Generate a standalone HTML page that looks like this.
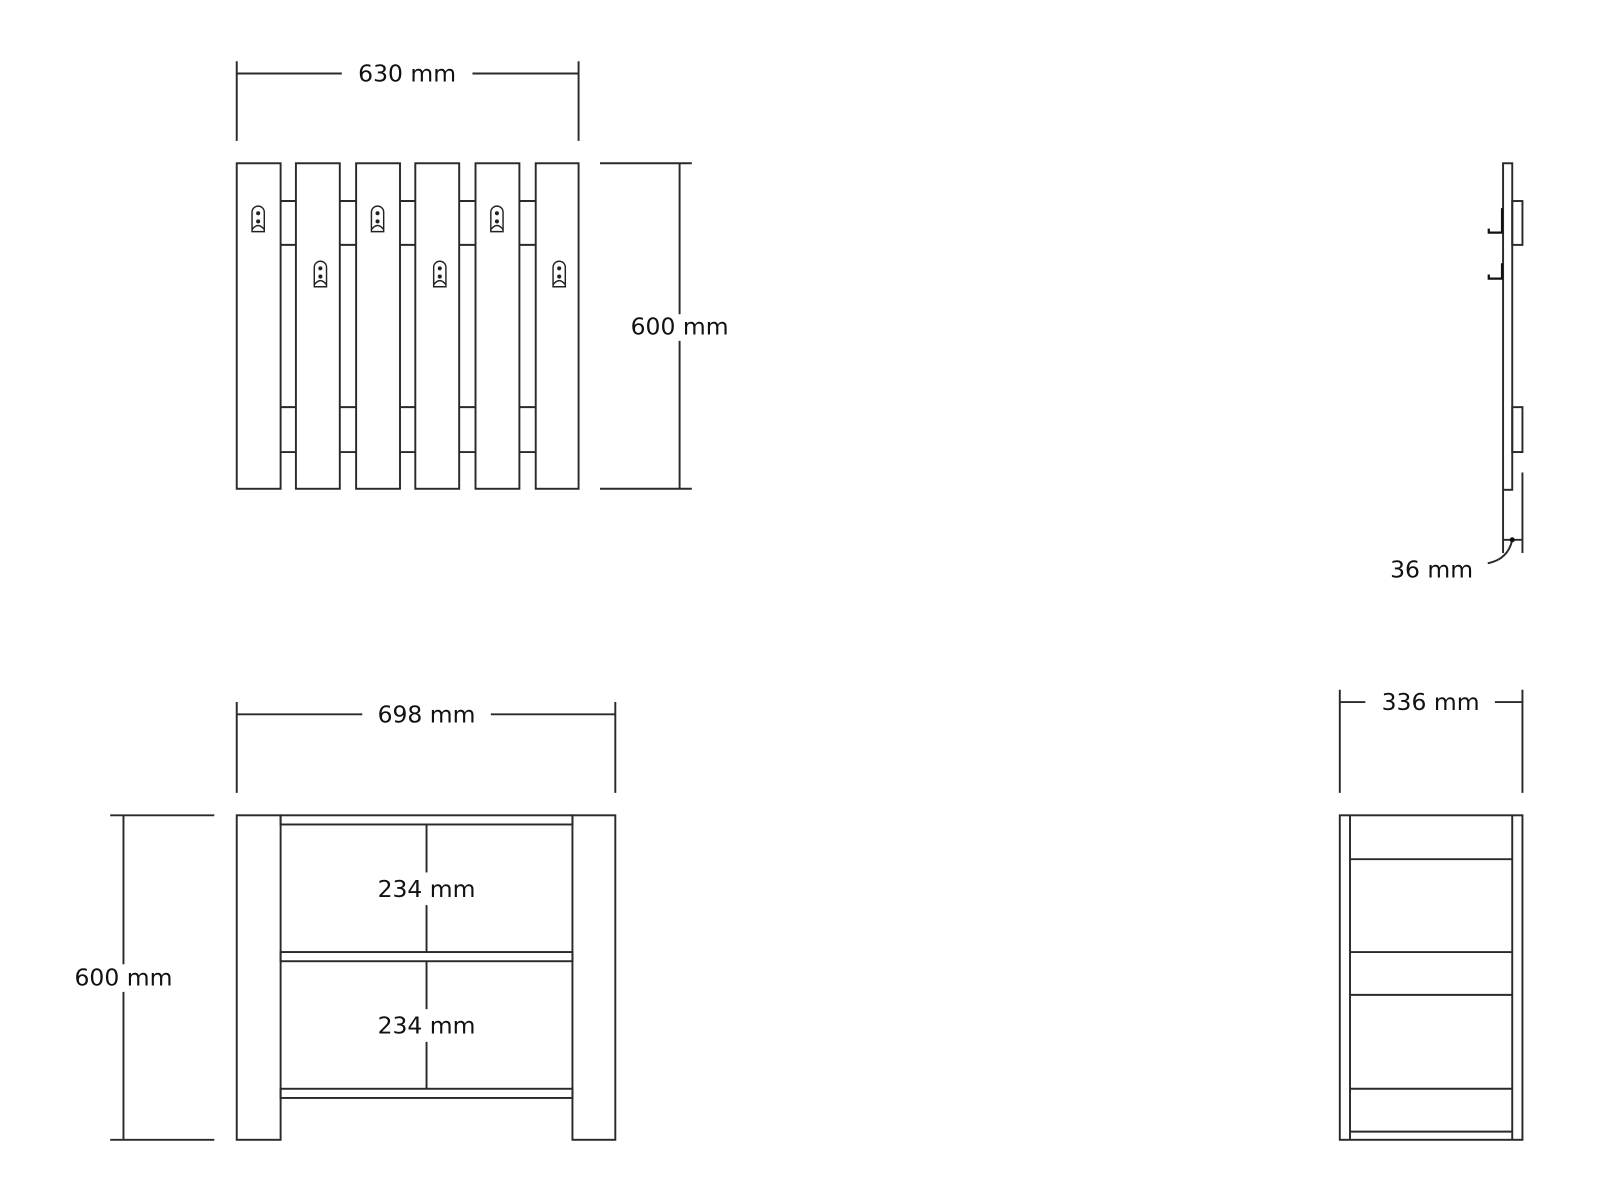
<!DOCTYPE html>
<html><head><style>html,body{margin:0;background:#fff}svg{display:block}</style></head>
<body>
<svg width="1600" height="1200" viewBox="0 0 1568 1176" xmlns="http://www.w3.org/2000/svg">
<defs>
<g id="hk" fill="none" stroke="#222" stroke-width="1.4">
<path d="M-6,13 V-6 A6,6 0 0 1 6,-6 V13 Z"/>
<circle cx="0" cy="-5" r="1.3" fill="#222"/>
<circle cx="0" cy="3" r="1.3" fill="#222"/>
<path d="M-6,11 Q0,3 6,11"/>
</g>
</defs>
<g fill="none" stroke="#2a2a2a" stroke-width="1.9">
<line x1="232" y1="60" x2="232" y2="138"/><line x1="567" y1="60" x2="567" y2="138"/>
<line x1="232" y1="72" x2="335" y2="72"/><line x1="463" y1="72" x2="567" y2="72"/>
<rect x="232" y="160" width="43" height="319"/>
<rect x="290" y="160" width="43" height="319"/>
<rect x="349" y="160" width="43" height="319"/>
<rect x="407" y="160" width="43" height="319"/>
<rect x="466" y="160" width="43" height="319"/>
<rect x="525" y="160" width="42" height="319"/>
<path d="M275,197H290M275,240H290M333,197H349M333,240H349M392,197H407M392,240H407M450,197H466M450,240H466M509,197H525M509,240H525"/>
<path d="M275,399H290M275,443H290M333,399H349M333,443H349M392,399H407M392,443H407M450,399H466M450,443H466M509,399H525M509,443H525"/>
<line x1="588" y1="160" x2="678" y2="160"/><line x1="588" y1="479" x2="678" y2="479"/>
<line x1="666" y1="160" x2="666" y2="308"/><line x1="666" y1="334" x2="666" y2="479"/>
<rect x="1473" y="160" width="9" height="320"/>
<rect x="1482" y="197" width="10" height="43"/>
<rect x="1482" y="399" width="10" height="44"/>
<line x1="1473" y1="480" x2="1473" y2="542"/>
<line x1="1492" y1="463" x2="1492" y2="542"/>
<line x1="1473" y1="529" x2="1492" y2="529"/>
<path d="M1482,529 Q1478,548 1458,552"/>
<line x1="232" y1="688" x2="232" y2="777"/><line x1="603" y1="688" x2="603" y2="777"/>
<line x1="232" y1="700" x2="355" y2="700"/><line x1="481" y1="700" x2="603" y2="700"/>
<rect x="232" y="799" width="43" height="318"/>
<rect x="561" y="799" width="42" height="318"/>
<rect x="275" y="799" width="286" height="9"/>
<rect x="275" y="933" width="286" height="9"/>
<rect x="275" y="1067" width="286" height="9"/>
<line x1="418" y1="808" x2="418" y2="855"/><line x1="418" y1="887" x2="418" y2="933"/>
<line x1="418" y1="942" x2="418" y2="989"/><line x1="418" y1="1021" x2="418" y2="1067"/>
<line x1="108" y1="799" x2="210" y2="799"/><line x1="108" y1="1117" x2="210" y2="1117"/>
<line x1="121" y1="799" x2="121" y2="945"/><line x1="121" y1="972" x2="121" y2="1117"/>
<line x1="1313" y1="676" x2="1313" y2="777"/><line x1="1492" y1="676" x2="1492" y2="777"/>
<line x1="1313" y1="688" x2="1338" y2="688"/><line x1="1465" y1="688" x2="1492" y2="688"/>
<rect x="1313" y="799" width="179" height="318"/>
<line x1="1323" y1="799" x2="1323" y2="1117"/><line x1="1482" y1="799" x2="1482" y2="1117"/>
<path d="M1323,842H1482M1323,933H1482M1323,975H1482M1323,1067H1482M1323,1109H1482"/>
</g>
<g fill="none" stroke="#111" stroke-width="2.2">
<path d="M1472,204V228H1459V224"/>
<path d="M1472,258V273H1459V269"/>
</g>
<circle cx="1482" cy="529" r="2.5" fill="#111"/>
<use href="#hk" x="253" y="214"/><use href="#hk" x="370" y="214"/><use href="#hk" x="487" y="214"/>
<use href="#hk" x="314" y="268"/><use href="#hk" x="431" y="268"/><use href="#hk" x="548" y="268"/>
<g font-family="DejaVu Sans, Liberation Sans, sans-serif" font-size="23" fill="#111" text-anchor="middle">
<text x="399" y="80">630 mm</text>
<text x="666" y="328">600 mm</text>
<text x="1403" y="566">36 mm</text>
<text x="418" y="708">698 mm</text>
<text x="1402" y="696">336 mm</text>
<text x="418" y="879">234 mm</text>
<text x="418" y="1013">234 mm</text>
<text x="121" y="966">600 mm</text>
</g>
</svg>
</body></html>
